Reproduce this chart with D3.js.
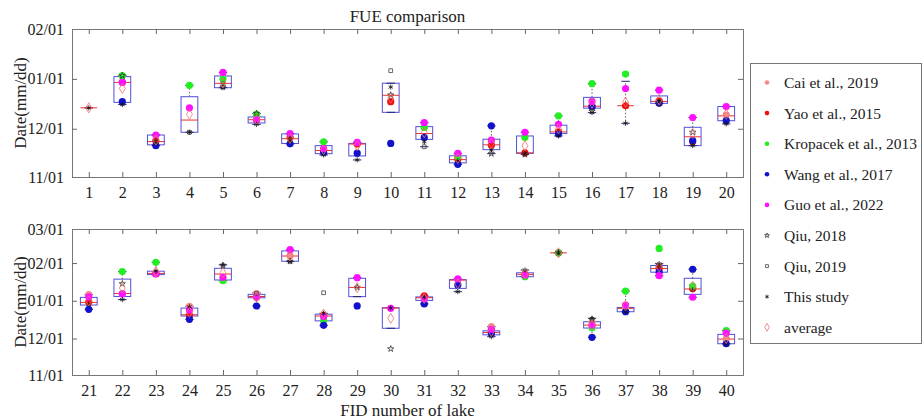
<!DOCTYPE html>
<html><head><meta charset="utf-8">
<script src="https://cdn.jsdelivr.net/npm/d3@7"></script>
<style>
body{margin:0;background:#fff}
text{font-family:"Liberation Serif","Times New Roman",serif;fill:#222}
</style>
</head><body>
<svg id="c" width="924" height="419"></svg>
<script>
// Lake IDs (FID)
const lakes = d3.range(1, 41);
// values = days after 11/01 (null = no data)
const cai    = [null,null,null,null,null,null,null,null,null,null, null,12,21.5,null,null,44,null,47.5,null,38.5,
                66,67,83.5,56.5,null,67,98,null,null,null, 64.5,78.5,39.7,83,null,43,55,88,72,29.5];
const yao    = [null,59,22.5,null,null,35.6,24.5,17,20.5,46.8, null,11,19.7,15,28,43.7,44.3,47,22,null,
                60,null,83.3,49,null,64,null,49,null,null, 65,null,36,82.5,100.4,null,null,87.5,71,null];
const kropacek=[null,63,null,57,60.9,39,null,21.9,null,null, 30.8,12.8,null,24.6,38,58,64,null,null,null,
                null,85,92.6,null,77.5,null,null,44.5,null,null, null,null,null,80.8,100.3,38.9,69,104,73,36.5];
const wang   = [null,46.8,19.5,null,null,null,20.6,15.2,14.8,20.9, 24.6,7.9,31.8,null,26.7,43.7,null,45.8,22.6,35,
                54,null,null,45.8,null,56.7,null,40.8,56.8,null, 58.4,74,34.2,null,null,31,52,84.5,86.9,25.7];
const guo    = [null,58.8,26.1,43,65,35.6,27,17.6,21.5,null, 33.8,14.7,23,27.8,32.8,47,55,54,37,43.8,
                64.2,66.6,83,53.5,80.2,64.5,103,48,80,54.8, 62.5,79,37.6,82,null,40.8,57.5,81.6,63.9,34.5];
const qiu2018= [null,63,22,null,56,39.5,23.5,null,null,51, null,null,14.5,14,null,41,null,46,27.8,null,
                null,75,null,null,90,null,93.5,null,72,21.5, null,null,null,null,100.5,45.5,null,90,null,null];
const qiu2019= [null,null,null,27.8,58,null,null,null,null,66.1, 18.8,null,null,null,null,null,null,null,null,null,
                null,null,null,null,null,67,null,67.6,null,null, null,null,null,null,null,null,null,null,null,null];
const thisStudy=[43,45,21,27.8,55.5,32.7,22,13.7,10.6,55.9, 21.9,10,16.8,14.5,25.5,40,33.4,47,19.5,33,
                58,62,85.5,56,90.5,null,93.2,50.7,null,55, 64,68.5,31.5,86.3,100.5,46.6,52,91.5,70,25.5];
const average= [43,55.1,23,39,58.5,36,24,17,19.5,49, 27.5,11.5,21,19.5,30,46,46.6,48,27,39,
                61,71.5,85,51.5,84,63.8,98,50,71.8,46.6, 63,75,35.8,83,100.4,41,57,89,73,30];
// box statistics
const boxQ1  = [43,46.4,20,27.8,55.5,33.6,20.8,14.5,13.1,40.2, 23.4,8.8,17,14.7,27,42.8,44.3,45.8,19.5,35,
                57.5,64.5,82.5,48.5,78.1,63.5,93.5,44.5,64.4,38.4, 61.3,71.2,33,80.8,100.4,38.6,52,84.5,66.3,25.7];
const boxMed = [43,58.8,22,35.4,58.2,35.6,23.8,16.5,20.5,50.8, 27,10.8,20,15,28,44,44.3,47,25,38,
                59.7,67,83.5,49.5,83,64.5,97.8,48.5,72,55, 63.5,78,35,82.7,100.4,41,54.8,87.5,70.7,29.5];
const boxQ3  = [43,62.4,26.1,49.9,62.8,37.3,26.8,19.5,20.9,58.3, 31.3,13.2,23.5,25.5,32.2,49.5,44.3,50.4,30.9,43.8,
                63.8,78.8,85.3,55,87.7,66.3,102,50,79.5,55.3, 64.2,78.4,36.3,84,100.4,43.8,55.5,90,79.5,33.4];
const whiskLo= [43,45,19.5,27.8,55.5,32.7,20.6,13.7,10.6,40.2, 18.8,7.9,14.5,14,25.5,40,33.4,45.8,19.5,33,
                54,62,82.5,45.8,77.5,56.7,93.2,40.8,64.4,38.4, 58.4,68.5,31.5,80.8,100.4,31,52,81.6,63.9,25.5];
const whiskHi= [43,63,26.1,57,65,39.5,27,21.9,21.5,58.3, 33.8,14.7,31.8,27.8,38,58,59.5,54,37,43.8,
                66,85,92.6,56.5,90.5,67.5,103,50.7,80,55.3, 65,79,39.7,86.3,100.4,46.6,69,91.5,86.9,36.5];

const seriesNames = ["Cai et al., 2019","Yao et al., 2015","Kropacek et al., 2013","Wang et al., 2017",
                     "Guo et al., 2022","Qiu, 2018","Qiu, 2019","This study","average"];
const topTickVals = [0,30,61,92];
const topTickLabels = ["11/01","12/01","01/01","02/01"];
const botTickVals = [0,30,61,92,120];
const botTickLabels = ["11/01","12/01","01/01","02/01","03/01"];

const svg = d3.select("#c");
const L = 72, R = 743;

const series = [
  {name:seriesNames[0], data:cai, type:"circle", color:"#f28a8a"},
  {name:seriesNames[1], data:yao, type:"circle", color:"#ee1111"},
  {name:seriesNames[2], data:kropacek, type:"circle", color:"#22ee22"},
  {name:seriesNames[3], data:wang, type:"circle", color:"#1111cc"},
  {name:seriesNames[4], data:guo, type:"circle", color:"#ff11ff"},
  {name:seriesNames[5], data:qiu2018, type:"star", color:"#333"},
  {name:seriesNames[6], data:qiu2019, type:"square", color:"#444"},
  {name:seriesNames[7], data:thisStudy, type:"asterisk", color:"#111"},
  {name:seriesNames[8], data:average, type:"diamond", color:"#f07070"}
];

function symbolPath(type, big){
  const k = big ? 1 : 0.6;
  if(type==="star") return d3.symbol(d3.symbolStar, 12*k)();
  if(type==="square") return d3.symbol(d3.symbolSquare, 14*k)();
  if(type==="asterisk") return d3.symbol(d3.symbolAsterisk, 18*k)();
  if(type==="diamond") return d3.symbol(d3.symbolDiamond, 30*k)();
  return null;
}

function drawMarker(g, s, x, y, big){
  if(s.type==="circle"){
    g.append("circle").attr("cx",x).attr("cy",y).attr("r", big?3.6:2.3).attr("fill",s.color);
  } else {
    g.append("path").attr("d",symbolPath(s.type,big)).attr("transform",`translate(${x},${y})`)
      .attr("fill","none").attr("stroke",s.color).attr("stroke-width", 0.8);
  }
}

const panels = [
  {ids: lakes.slice(0,20), top:29, bottom:177, dmax:92, tv:topTickVals, tl:topTickLabels},
  {ids: lakes.slice(20,40), top:229, bottom:375, dmax:120, tv:botTickVals, tl:botTickLabels}
];

panels.forEach((p, pi) => {
  const x = d3.scaleLinear().domain([p.ids[0]-0.5, p.ids[p.ids.length-1]+0.5]).range([L, R]);
  const y = d3.scaleLinear().domain([0, p.dmax]).range([p.bottom, p.top]);
  const g = svg.append("g");
  const hw = (x(2)-x(1))*0.25;

  // axes
  const ax = (sel) => sel.call(s => s.select(".domain").attr("stroke","#777"))
                       .call(s => s.selectAll(".tick line").attr("stroke","#666"))
                       .call(s => s.selectAll("text").attr("font-size","16px").attr("font-family","Liberation Serif").attr("fill","#222"));
  g.append("g").attr("transform",`translate(${L},0)`)
    .call(d3.axisLeft(y).tickValues(p.tv).tickFormat((d,i)=>p.tl[i]).tickSize(-5).tickPadding(8)).call(ax);
  g.append("g").attr("transform",`translate(${R},0)`)
    .call(d3.axisRight(y).tickValues(p.tv).tickFormat("").tickSize(-5)).call(ax);
  g.append("g").attr("transform",`translate(0,${p.bottom})`)
    .call(d3.axisBottom(x).tickValues(p.ids).tickFormat(d3.format("d")).tickSize(-5).tickPadding(10)).call(ax);
  g.append("g").attr("transform",`translate(0,${p.top})`)
    .call(d3.axisTop(x).tickValues(p.ids).tickFormat("").tickSize(-5)).call(ax);

  // box plots
  p.ids.forEach(id => {
    const i = id-1, cx = x(id);
    const q1 = y(boxQ1[i]), q3 = y(boxQ3[i]), md = y(boxMed[i]);
    const lo = y(whiskLo[i]), hi = y(whiskHi[i]);
    if (hi < q3) g.append("line").attr("x1",cx).attr("x2",cx).attr("y1",q3).attr("y2",hi)
        .attr("stroke","#333").attr("stroke-dasharray","1.5,2").attr("stroke-width",0.8);
    if (lo > q1) g.append("line").attr("x1",cx).attr("x2",cx).attr("y1",q1).attr("y2",lo)
        .attr("stroke","#333").attr("stroke-dasharray","1.5,2").attr("stroke-width",0.8);
    g.append("rect").attr("x",cx-hw).attr("y",q3).attr("width",2*hw).attr("height",Math.max(0,q1-q3))
      .attr("fill","none").attr("stroke","#5050d8").attr("stroke-width",1);
    [lo,hi].forEach(v => g.append("line").attr("x1",cx-hw*0.5).attr("x2",cx+hw*0.5).attr("y1",v).attr("y2",v)
      .attr("stroke","#222266").attr("stroke-width",1));
    g.append("line").attr("x1",cx-hw).attr("x2",cx+hw).attr("y1",md).attr("y2",md)
      .attr("stroke","#e83030").attr("stroke-width",1);
  });

  // markers
  series.forEach(s => {
    p.ids.forEach(id => {
      const v = s.data[id-1];
      if (v === null || v === undefined) return;
      drawMarker(g, s, x(id), y(v), true);
    });
  });

  // y label
  svg.append("text").attr("transform",`translate(22,${(p.top+p.bottom)/2}) rotate(-90)`)
    .attr("text-anchor","middle").attr("dominant-baseline","middle").attr("font-size","17px").text("Date(mm/dd)");
});

// title and x label
svg.append("text").attr("x",(L+R)/2).attr("y",22).attr("text-anchor","middle").attr("font-size","17px").text("FUE comparison");
svg.append("text").attr("x",(L+R)/2).attr("y",416).attr("text-anchor","middle").attr("font-size","17px").text("FID number of lake");

// legend
const lg = svg.append("g");
lg.append("rect").attr("x",750.5).attr("y",63.5).attr("width",171).attr("height",280)
  .attr("fill","#fff").attr("stroke","#777").attr("stroke-width",1);
series.forEach((s, k) => {
  const yy = 82.5 + k*30.6;
  drawMarker(lg, s, 767, yy, false);
  lg.append("text").attr("x",784).attr("y",yy).attr("dominant-baseline","central")
    .attr("font-size","15.5px").text(s.name);
});
</script>
</body></html>
